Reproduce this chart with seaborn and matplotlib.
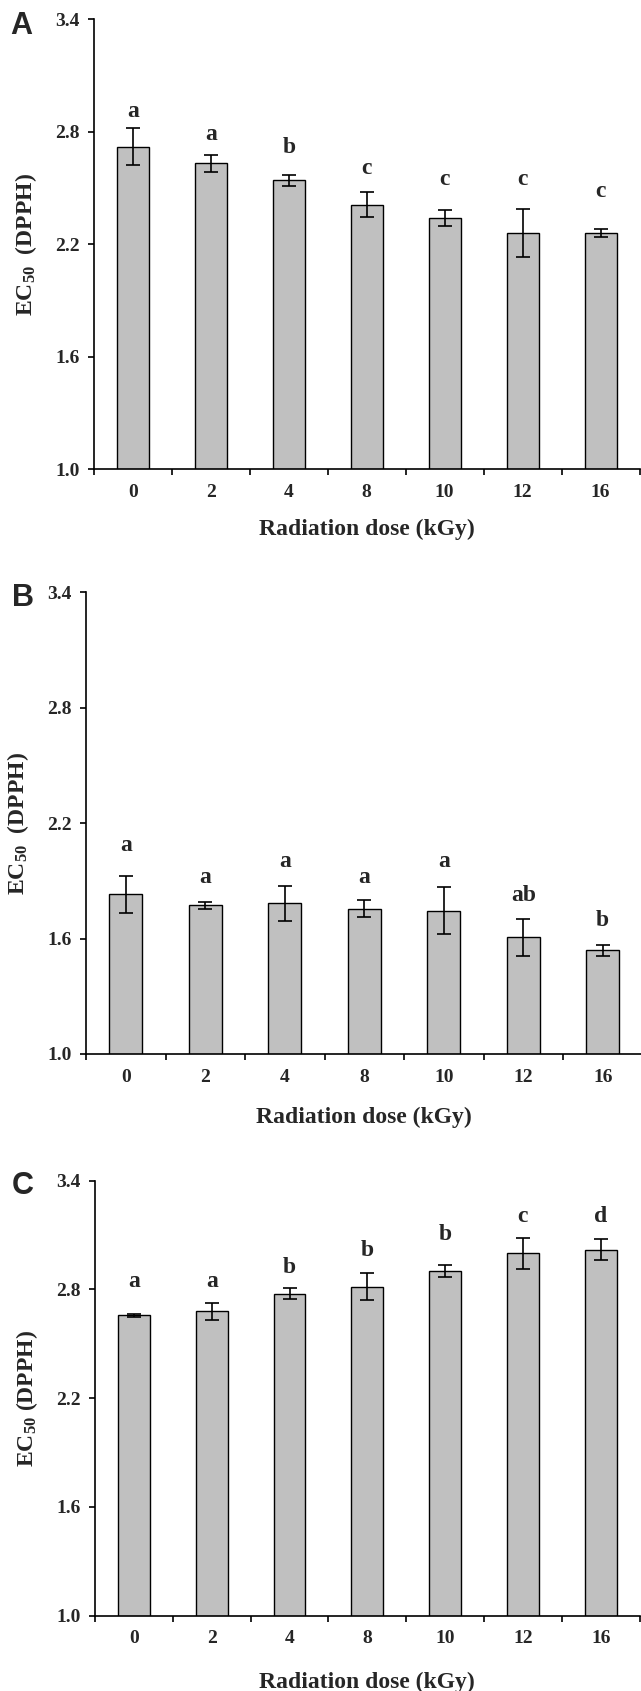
import matplotlib
matplotlib.use("Agg")
import matplotlib.pyplot as plt
import numpy as np
import pandas as pd
import seaborn as sns

# ---------------------------------------------------------------------------
# Data
# ---------------------------------------------------------------------------
doses = ["0", "2", "4", "8", "10", "12", "16"]

mean_a = [2.72, 2.63, 2.54, 2.41, 2.34, 2.26, 2.26]
err_a = [0.10, 0.047, 0.030, 0.066, 0.044, 0.13, 0.020]
letters_a = ["a", "a", "b", "c", "c", "c", "c"]
letter_y_a = [2.876, 2.756, 2.686, 2.573, 2.516, 2.516, 2.450]

mean_b = [1.83, 1.774, 1.783, 1.756, 1.744, 1.606, 1.539]
err_b = [0.095, 0.018, 0.090, 0.045, 0.122, 0.098, 0.028]
letters_b = ["a", "a", "a", "a", "a", "ab", "b"]
letter_y_b = [2.054, 1.887, 1.970, 1.887, 1.970, 1.796, 1.667]

mean_c = [2.658, 2.679, 2.777, 2.815, 2.901, 2.999, 3.018]
err_c = [0.008, 0.048, 0.030, 0.074, 0.031, 0.087, 0.058]
letters_c = ["a", "a", "b", "b", "b", "c", "d"]
letter_y_c = [2.815, 2.815, 2.891, 2.986, 3.075, 3.172, 3.170]

yticks = [1.0, 1.6, 2.2, 2.8, 3.4]

# ---------------------------------------------------------------------------
# Style
# ---------------------------------------------------------------------------
sns.set_theme(style="ticks")
plt.rcParams.update({
    "font.family": ["Liberation Serif", "DejaVu Serif"],
    "font.weight": "bold",
    "mathtext.fontset": "custom",
    "mathtext.rm": "Liberation Serif:bold",
    "mathtext.bf": "Liberation Serif:bold",
    "mathtext.default": "bf",
    "axes.linewidth": 1.2,
})

W, H = 641, 1691
fig = plt.figure(figsize=(W / 100, H / 100), dpi=100)

# panel rectangles in pixels: left, top, width, bottom
panels = [
    dict(name="A", rect=(94, 19, 545.5, 469.3), mean=mean_a, err=err_a,
         letters=letters_a, ly=letter_y_a, ylabel="EC$_{50}$  (DPPH)",
         letter_xy=(10, 34), xlab_off=60),
    dict(name="B", rect=(86, 592.3, 556.5, 1054), mean=mean_b, err=err_b,
         letters=letters_b, ly=letter_y_b, ylabel="EC$_{50}$  (DPPH)",
         letter_xy=(12, 606), xlab_off=63),
    dict(name="C", rect=(95, 1180.7, 544.6, 1615.5), mean=mean_c, err=err_c,
         letters=letters_c, ly=letter_y_c, ylabel="EC$_{50}$ (DPPH)",
         letter_xy=(12, 1194), xlab_off=67),
]

for p in panels:
    left, top, width, bottom = p["rect"]
    ax = fig.add_axes([left / W, 1 - bottom / H, width / W, (bottom - top) / H])
    df = pd.DataFrame({"dose": doses, "ec50": p["mean"]})
    sns.barplot(data=df, x="dose", y="ec50", order=doses, color="#C0C0C0",
                saturation=1, edgecolor="black", linewidth=1.0, width=0.41,
                errorbar=None, ax=ax)
    centers = [b.get_x() + b.get_width() / 2 for b in ax.patches]
    ax.errorbar(centers, p["mean"], yerr=p["err"], fmt="none", ecolor="black",
                elinewidth=1.2, capsize=4.9, capthick=1.2)
    for x, y, t in zip(centers, p["ly"], p["letters"]):
        ax.text(x, y, t, ha="center", va="baseline", fontsize=17,
                fontweight="bold")

    ax.set_ylim(1.0, 3.4)
    ax.set_xlim(-0.5, len(doses) - 0.5)
    ax.set_yticks(yticks)
    ax.set_yticklabels([f"{v:.1f}" for v in yticks])
    ax.set_xticks(range(len(doses)))
    ax.set_xticklabels(doses)
    ax.set_xticks(np.arange(-0.5, len(doses), 1), minor=True)
    ax.tick_params(axis="x", which="major", length=0, pad=10.5, labelsize=14)
    ax.tick_params(axis="x", which="minor", length=4.3, width=1.2,
                   direction="out", color="black")
    ax.tick_params(axis="y", length=4.3, width=1.2, direction="out",
                   pad=6, labelsize=14, color="black")
    for lab in ax.get_xticklabels() + ax.get_yticklabels():
        lab.set_fontweight("bold")
    sns.despine(ax=ax)
    ax.spines["left"].set_color("black")
    ax.spines["bottom"].set_color("black")
    ax.set_facecolor("white")

    ax.set_xlabel("Radiation dose (kGy)", fontsize=17, fontweight="bold")
    ax.xaxis.label.set_va("center")
    ax.xaxis.set_label_coords(0.5, -p["xlab_off"] / (bottom - top))
    ax.set_ylabel(p["ylabel"], fontsize=17, fontweight="bold")
    ax.yaxis.label.set_va("center")
    ax.yaxis.set_label_coords(-68 / width, 0.5)

    fig.text(p["letter_xy"][0] / W, 1 - p["letter_xy"][1] / H, p["name"],
             ha="left", va="baseline", fontsize=22, fontweight="bold",
             family=["Liberation Sans", "DejaVu Sans"])

fig.savefig("out.png", dpi=100, facecolor="white")
